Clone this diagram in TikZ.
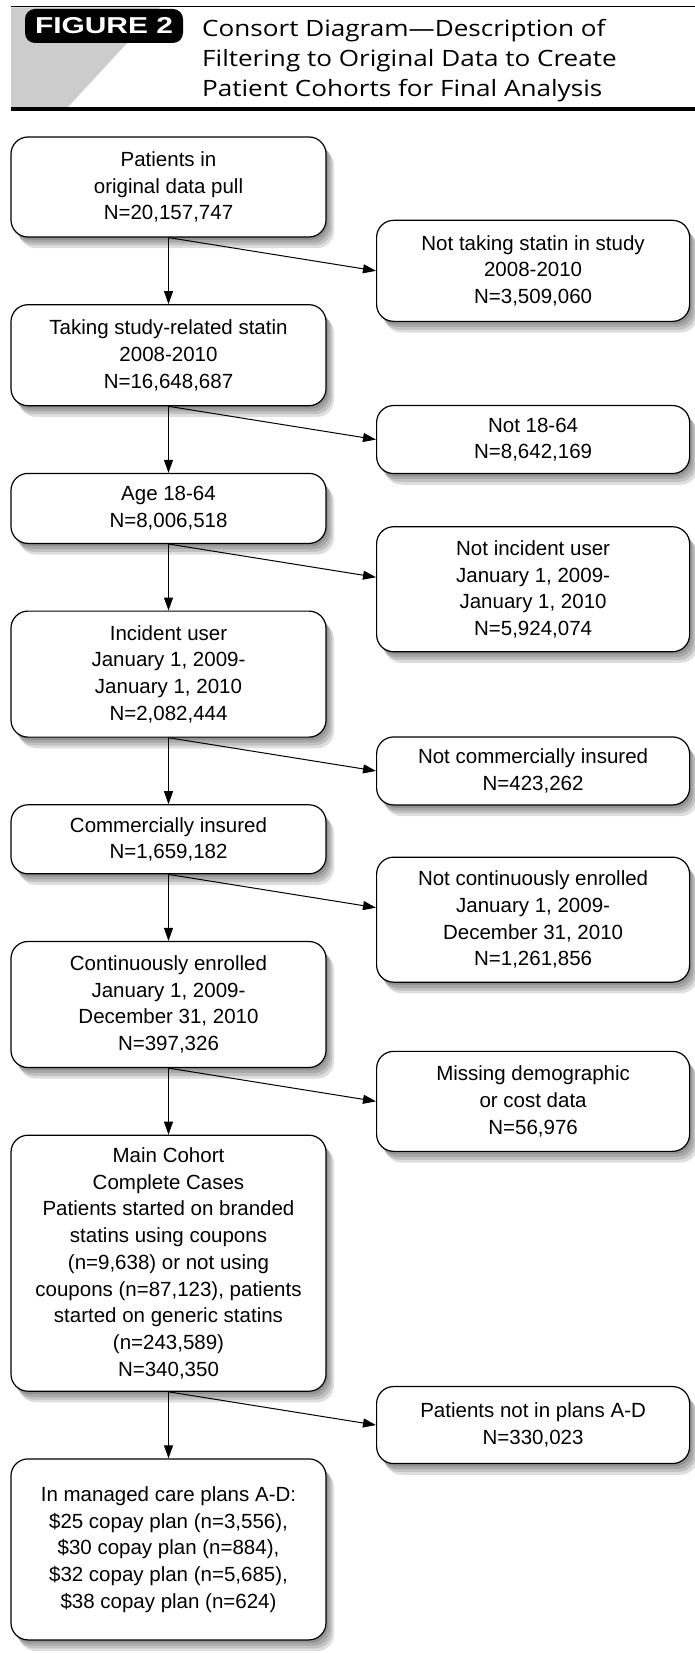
\documentclass[tikz,border=0pt]{standalone}
\usepackage{fontspec}
\setmainfont{Liberation Sans}
\newfontfamily\titlefont{Open Sans}
\usetikzlibrary{arrows.meta,positioning,shadows,calc}

\begin{document}
\begin{tikzpicture}[x=1pt,y=-1pt,font=\fontsize{20.5}{26.7}\selectfont,node distance=66.5pt,
 shd/.style={drop shadow={shadow xshift=#1,shadow yshift=-1.4*#1,fill=black,opacity=.13}},
 box/.style={draw,line width=1.2pt,rounded corners=17pt,fill=white,align=center,inner sep=4pt,
  minimum width=315pt,shd=2pt,shd=4pt,shd=6pt,shd=8pt},
 side/.style={box,minimum width=313pt,anchor=west},
 flow/.style={-{Triangle[length=13pt,width=9pt]},line width=1pt}]
\useasboundingbox (0,0) rectangle (695,1653);
% header
\fill[black!20] (11,7.5) -- (160,7.5) -- (68,107) -- (11,107) -- cycle;
\draw[line width=1.5pt] (11,6.5) -- (695,6.5);
\draw[line width=4.5pt] (11,109) -- (695,109);
\node[fill=black,rounded corners=10pt,minimum width=158pt,minimum height=34pt,inner sep=0pt,
 text=white,font=\fontsize{23}{28}\selectfont\bfseries] (badge) at (104,26) {\scalebox{1.3}[1]{FIGURE 2}};
\node[anchor=base west,inner sep=0pt,font=\fontsize{22.5}{30}\selectfont\titlefont] (title) at (202,37)
 {\scalebox{1.16}[1]{\begin{tabular}[t]{@{}l@{}}Consort Diagram—Description of\\Filtering to Original Data to Create\\Patient Cohorts for Final Analysis\end{tabular}}};
% kept patients
\node[box,minimum height=100pt] (orig) at (168.5,187) {Patients in\\original data pull\\N=20,157,747};
\node[box,minimum height=101pt,below=of orig] (statin) {Taking study-related statin\\2008-2010\\N=16,648,687};
\node[box,minimum height=70pt,below=of statin] (age) {Age 18-64\\N=8,006,518};
\node[box,minimum height=126pt,below=of age] (incident) {Incident user\\January 1, 2009-\\January 1, 2010\\N=2,082,444};
\node[box,minimum height=69pt,below=of incident] (comm) {Commercially insured\\N=1,659,182};
\node[box,minimum height=126pt,below=of comm] (cont) {Continuously enrolled\\January 1, 2009-\\December 31, 2010\\N=397,326};
\node[box,minimum height=256pt,below=of cont] (cohort) {Main Cohort\\Complete Cases\\Patients started on branded\\statins using coupons\\(n=9,638) or not using\\coupons (n=87,123), patients\\started on generic statins\\(n=243,589)\\N=340,350};
\node[box,minimum height=181pt,below=of cohort] (plans) {In managed care plans A-D:\\\$25 copay plan (n=3,556),\\\$30 copay plan (n=884),\\\$32 copay plan (n=5,685),\\\$38 copay plan (n=624)};
% excluded patients
\node[side,minimum height=101pt] (nostatin) at ($(orig.south)!.5!(statin.north)+(207.5,0)$) {Not taking statin in study\\2008-2010\\N=3,509,060};
\node[side,minimum height=68pt] (noage) at ($(statin.south)!.5!(age.north)+(207.5,0)$) {Not 18-64\\N=8,642,169};
\node[side,minimum height=125pt,yshift=-12pt] (noinc) at ($(age.south)!.5!(incident.north)+(207.5,0)$) {Not incident user\\January 1, 2009-\\January 1, 2010\\N=5,924,074};
\node[side,minimum height=68pt] (nocomm) at ($(incident.south)!.5!(comm.north)+(207.5,0)$) {Not commercially insured\\N=423,262};
\node[side,minimum height=125pt,yshift=-12pt] (nocont) at ($(comm.south)!.5!(cont.north)+(207.5,0)$) {Not continuously enrolled\\January 1, 2009-\\December 31, 2010\\N=1,261,856};
\node[side,minimum height=100pt] (missing) at ($(cont.south)!.5!(cohort.north)+(207.5,0)$) {Missing demographic\\or cost data\\N=56,976};
\node[side,minimum height=77pt] (noplan) at ($(cohort.south)!.5!(plans.north)+(207.5,0)$) {Patients not in plans A-D\\N=330,023};
\draw[flow] (orig) -- (statin);
\draw[flow] (statin) -- (age);
\draw[flow] (age) -- (incident);
\draw[flow] (incident) -- (comm);
\draw[flow] (comm) -- (cont);
\draw[flow] (cont) -- (cohort);
\draw[flow] (cohort) -- (plans);
\draw[flow] (orig.south) -- (nostatin.west);
\draw[flow] (statin.south) -- (noage.west);
\draw[flow] (age.south) -- ([yshift=12pt]noinc.west);
\draw[flow] (incident.south) -- (nocomm.west);
\draw[flow] (comm.south) -- ([yshift=12pt]nocont.west);
\draw[flow] (cont.south) -- (missing.west);
\draw[flow] (cohort.south) -- (noplan.west);
\end{tikzpicture}
\end{document}
